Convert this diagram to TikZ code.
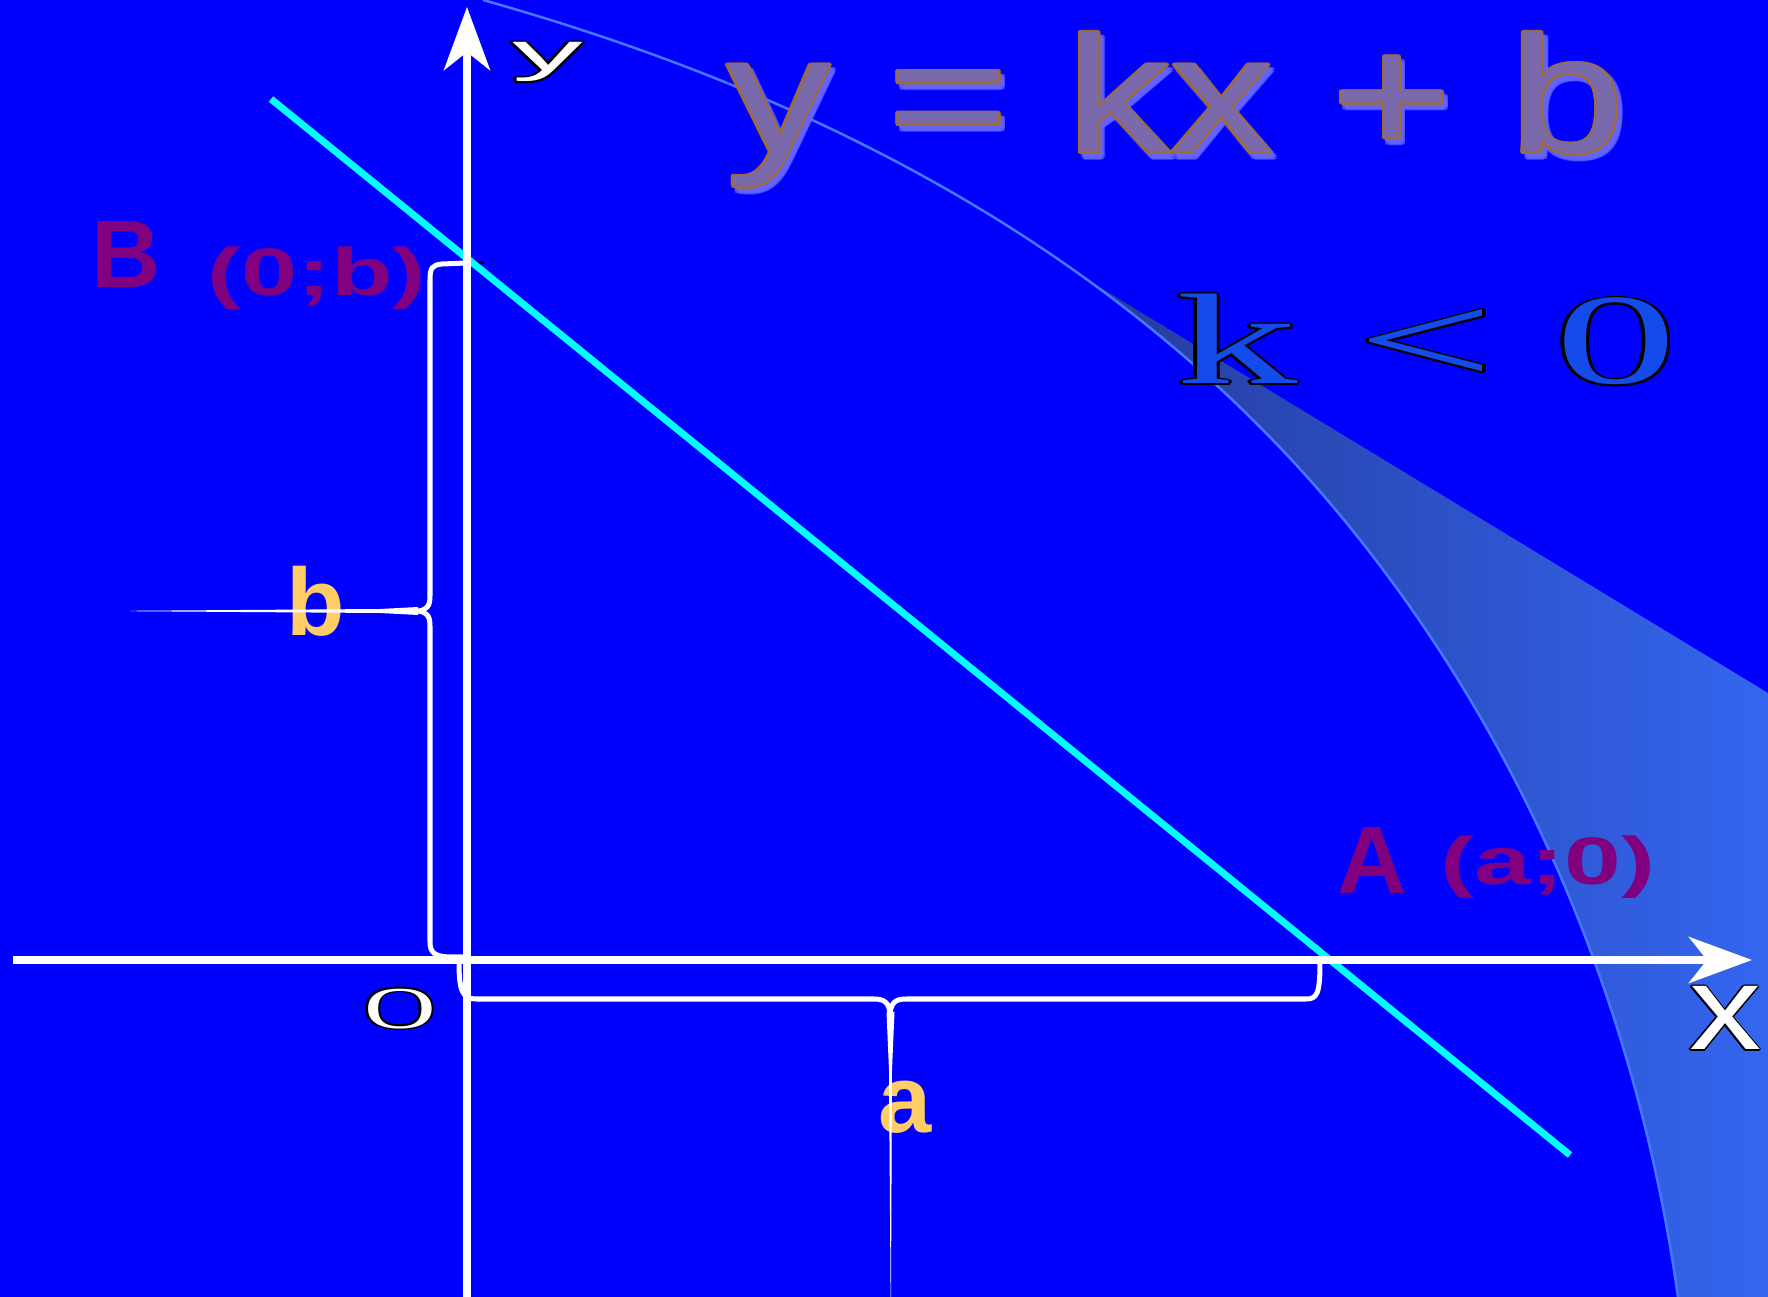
\documentclass[tikz,border=0pt]{standalone}
\usepackage{fontspec}
\usepackage{contour}
\usetikzlibrary{arrows.meta, positioning, calc}

\newfontfamily\sansfam{Liberation Sans}
\newfontfamily\seriffam{Liberation Serif}

\definecolor{bgblue}{RGB}{0,0,255}
\definecolor{arcblue}{RGB}{70,120,255}
\definecolor{beamdark}{RGB}{36,56,150}
\definecolor{beamlight}{RGB}{52,102,240}
\definecolor{linecyan}{RGB}{0,255,255}
\definecolor{ptpurple}{RGB}{128,0,128}
\definecolor{labgold}{RGB}{255,204,102}
\definecolor{eqfill}{RGB}{122,106,172}
\definecolor{eqedge}{RGB}{160,108,50}
\definecolor{eqglow}{RGB}{100,100,255}
\definecolor{kfill}{RGB}{20,75,235}

\contournumber{12}

% the big arc in the background
\def\slopearc{(483,0) .. controls (814,93) and (1120,250) .. (1340,515) .. controls (1526,740) and (1638,1013) .. (1678,1297)}

\begin{document}
\begin{tikzpicture}[x=0.01cm, y=-0.01cm,
    >={Stealth[length=0.63cm, width=0.46cm, inset=0.18cm]},
    axis/.style={->, white, line width=0.08cm},
    graph/.style={linecyan, line width=0.07cm},
    brace/.style={white, line width=0.05cm, line join=round},
    lbl/.style={anchor=base west, inner sep=0pt, outer sep=0pt},
    ptname/.style={lbl, text=ptpurple, font=\sansfam\bfseries\fontsize{27.3}{30}\selectfont},
    ptcoord/.style={lbl, text=ptpurple, font=\sansfam\bfseries\fontsize{19.1}{22}\selectfont},
    seglbl/.style={lbl, text=labgold, font=\sansfam\bfseries\fontsize{27.2}{30}\selectfont}]

  \useasboundingbox (0,0) rectangle (1768,1297);
  \fill[bgblue] (0,0) rectangle (1768,1297);

  % light beam right of the arc
  \begin{scope}
    \clip (1040,251) -- (1768,693) -- (1768,1297) -- (1040,1297) -- cycle;
    \clip \slopearc -- (1768,1297) -- (1768,0) -- cycle;
    \shade[left color=beamdark, right color=beamlight] (1040,0) rectangle (1768,1297);
  \end{scope}
  \draw[arcblue, line width=0.025cm] \slopearc;

  % titles
  \node[lbl, text opacity=0.5, font=\sansfam\fontsize{47.5}{50}\selectfont] (eqglow) at (731,158)
    {\scalebox{1.24}[1]{\contourlength{0.6pt}\contour{eqglow}{\textcolor{eqglow}{y = kx + b}}}};
  \node[lbl, font=\sansfam\fontsize{47.5}{50}\selectfont] (eq) at (727,153)
    {\scalebox{1.24}[1]{\contourlength{0.5pt}\contour{eqedge}{\textcolor{eqfill}{y = kx + b}}}};
  \node[lbl, font=\seriffam\fontsize{36.7}{40}\selectfont] (kneg) at (1176,384)
    {\scalebox{1.88}[1]{\contourlength{0.5pt}\contour{black}{\textcolor{kfill}{k < 0}}}};

  \coordinate (O) at (467,960);
  \coordinate (xstart) at (13,960);
  \coordinate (xend) at (1752,960);
  \coordinate (ybot) at (467,1297);
  \coordinate (ytop) at (467,7);
  \coordinate (lnA) at (271,99);
  \coordinate (lnB) at (1570,1155);

  % point names
  \node[ptname] (Bname) at (91,288) {B};
  \node[ptcoord] (Bcoord) at (208,296) {\scalebox{1.5}[1]{(0;b)}};
  \node[ptname] (Aname) at (1337,893) {A};
  \node[ptcoord] (Acoord) at (1440,885) {\scalebox{1.52}[1]{(a;0)}};

  % segment labels
  \node[seglbl] (bl) at (286,636) {b};
  \node[seglbl] (al) at (878,1133) {a};

  % axis labels
  \node[lbl, font=\sansfam\fontsize{15.2}{17}\selectfont] (ylbl) at (512,71)
    {\scalebox{2.65}[1]{\contourlength{0.35pt}\contour{black}{\textcolor{white}{y}}}};
  \node[lbl, font=\sansfam\fontsize{34}{36}\selectfont] (xlbl) at (1689,1050)
    {\scalebox{1.21}[1]{\contourlength{0.35pt}\contour{black}{\textcolor{white}{x}}}};
  \node[lbl, font=\seriffam\fontsize{16.9}{19}\selectfont] (olbl) at (364,1028)
    {\scalebox{1.67}[1]{\contourlength{0.35pt}\contour{black}{\textcolor{white}{O}}}};

  % braces
  \draw[brace] (466,263) -- (442,264) .. controls (432,265) and (430,268) .. (430,280)
    -- (430,596) .. controls (430,606) and (427,610) .. (418,611)
    .. controls (427,612) and (430,616) .. (430,626)
    -- (430,942) .. controls (430,953) and (435,956) .. (448,957) -- (464,957);
  \fill[white] (418,607) -- (418,615) -- (380,613) -- (130,611.2) -- (130,610.8) -- (380,609) -- cycle;

  \draw[brace] (459,962) .. controls (459,990) and (462,999) .. (476,999)
    -- (874,999) .. controls (885,999) and (889,1003) .. (890,1014)
    .. controls (891,1003) and (895,999) .. (906,999)
    -- (1306,999) .. controls (1317,999) and (1320,994) .. (1320,962);
  \fill[white] (886.5,1012) -- (894.5,1012) -- (892,1070) -- (891,1297) -- (890.6,1297) -- (889,1070) -- cycle;

  \draw[black, line width=0.03cm] (473,263) -- (484,263);
  \draw[black, line width=0.03cm] (1335,958) -- (1346,958);

  % line and axes
  \draw[graph] (lnA) -- (lnB);
  \draw[axis] (xstart) -- (xend);
  \draw[axis] (ybot) -- (ytop);
\end{tikzpicture}
\end{document}
